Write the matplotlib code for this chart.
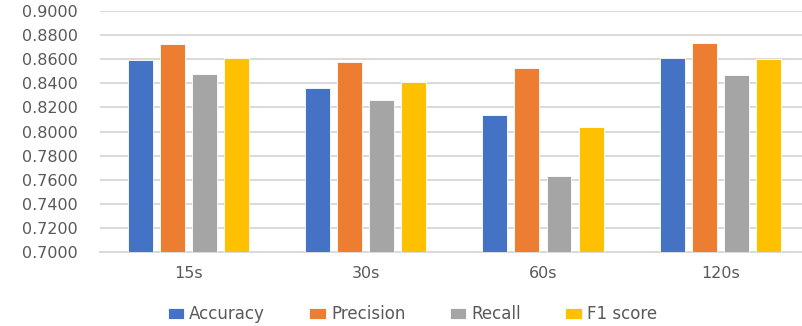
import matplotlib
matplotlib.use('Agg')
import matplotlib.pyplot as plt
import numpy as np

windows = ['15s', '30s', '60s', '120s']
accuracy = [0.8590, 0.8357, 0.8141, 0.8612]
precision = [0.8723, 0.8576, 0.8526, 0.8737]
recall = [0.8479, 0.8263, 0.7629, 0.8466]
f1_score = [0.8609, 0.8413, 0.8036, 0.8604]

series = [('Accuracy', accuracy, '#4472C4'),
          ('Precision', precision, '#ED7D31'),
          ('Recall', recall, '#A5A5A5'),
          ('F1 score', f1_score, '#FFC000')]

text_color = '#595959'
grid_color = '#D9D9D9'

fig = plt.figure(figsize=(8.02, 3.26), dpi=100)
ax = fig.add_axes([100/802, 1 - 252/326, 1 - 100/802, 241/326])

x = np.arange(len(windows))
step = 0.181
width = 0.141
for j, (name, vals, color) in enumerate(series):
    ax.bar(x + (j - 1.5) * step, vals, width, color=color, label=name,
           edgecolor='white', linewidth=0.6, zorder=3)

ax.set_ylim(0.70, 0.90)
ax.set_yticks(np.arange(0.70, 0.9001, 0.02))
ax.set_yticklabels(['%.4f' % v for v in np.arange(0.70, 0.9001, 0.02)])
ax.set_xlim(-0.5, 3.462)
ax.set_xticks(x)
ax.set_xticklabels(windows)

ax.grid(axis='y', color=grid_color, linewidth=1.4, zorder=0)
for s in ['top', 'right', 'left']:
    ax.spines[s].set_visible(False)
ax.spines['bottom'].set_color(grid_color)
ax.spines['bottom'].set_linewidth(1.4)

ax.tick_params(axis='y', length=0, pad=16, labelsize=11.5, labelcolor=text_color)
ax.tick_params(axis='x', length=0, pad=10, labelsize=11.5, labelcolor=text_color)

fig.legend(loc='center', bbox_to_anchor=(0.514, 1 - 314/326), ncol=4,
           frameon=False, fontsize=12, labelcolor=text_color,
           handlelength=1.0, handleheight=0.65, handletextpad=0.3,
           columnspacing=2.65)

fig.savefig('out.png', dpi=100)
